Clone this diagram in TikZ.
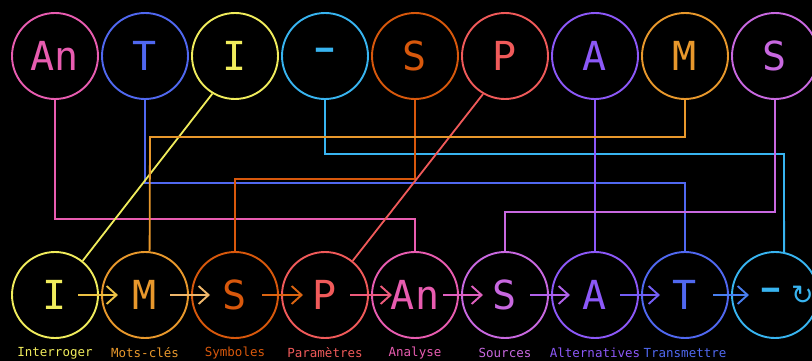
\documentclass[tikz,border=0pt]{standalone}
\usepackage{fontspec}
\setmonofont{DejaVu Sans Mono}
\newfontfamily\symf{DejaVu Sans}
\usetikzlibrary{arrows.meta}
\definecolor{cpink}{HTML}{E85CB0}
\definecolor{cblue}{HTML}{5068F0}
\definecolor{cyel}{HTML}{F0EC5C}
\definecolor{csky}{HTML}{38B4F0}
\definecolor{cred}{HTML}{D8580C}
\definecolor{ccoral}{HTML}{F05A5A}
\definecolor{cpurp}{HTML}{8C58F8}
\definecolor{corange}{HTML}{E8982C}
\definecolor{cviol}{HTML}{C868E0}
\newcommand{\wdash}{\scalebox{1.7}[1.3]{-}}
\begin{document}
\begin{tikzpicture}[x=1pt,y=-1pt,
  ring/.style={circle, draw=#1, line width=1.9pt, minimum size=86pt, inner sep=0pt, text=#1, font=\ttfamily\fontsize{40}{40}\selectfont},
  wire/.style={draw=#1, line width=1.8pt},
  flow/.style={draw=#1, line width=1.9pt, -{Straight Barb[length=10pt,width=18pt]}},
  tag/.style={text=#1, font=\ttfamily\fontsize{12.5}{12.5}\selectfont, inner sep=0pt}]
\fill[black] (0,0) rectangle (812,361);
\useasboundingbox (0,0) rectangle (812,361);
% top row
\node[ring=cpink]   (t1) at (55,56)  {An};
\node[ring=cblue]   (t2) at (145,56) {T};
\node[ring=cyel]    (t3) at (235,56) {I};
\node[ring=csky]    (t4) at (325,56) {\wdash};
\node[ring=cred]    (t5) at (415,56) {S};
\node[ring=ccoral]  (t6) at (505,56) {P};
\node[ring=cpurp]   (t7) at (595,56) {A};
\node[ring=corange] (t8) at (685,56) {M};
\node[ring=cviol]   (t9) at (775,56) {S};
% bottom row
\node[ring=cyel]    (b1) at (55,295)  {I};
\node[ring=corange] (b2) at (145,295) {M};
\node[ring=cred]    (b3) at (235,295) {S};
\node[ring=ccoral]  (b4) at (325,295) {P};
\node[ring=cpink]   (b5) at (415,295) {An};
\node[ring=cviol]   (b6) at (505,295) {S};
\node[ring=cpurp]   (b7) at (595,295) {A};
\node[ring=cblue]   (b8) at (685,295) {T};
\node[ring=csky]    (b9) at (775,295) {};
\node[text=csky, font=\ttfamily\fontsize{40}{40}\selectfont, inner sep=0pt] (b9t) at (782,295) {\wdash{\symf\fontsize{27}{27}\selectfont ↻}};
% labels
\node[tag=cyel]    (l1) at (55,353)  {Interroger};
\node[tag=corange] (l2) at (145,353) {Mots-clés};
\node[tag=cred]    (l3) at (235,353) {Symboles};
\node[tag=ccoral]  (l4) at (325,353) {Paramètres};
\node[tag=cpink]   (l5) at (415,353) {Analyse};
\node[tag=cviol]   (l6) at (505,353) {Sources};
\node[tag=cpurp]   (l7) at (595,353) {Alternatives};
\node[tag=cblue]   (l8) at (685,353) {Transmettre};
% connectors top -> bottom
\draw[wire=cpink]   (t1.south) |- (415,219) -- (b5.north);
\draw[wire=cblue]   (t2.south) |- (685,183) -- (b8.north);
\draw[wire=cyel]    (t3.239) -- (b1.51);
\draw[wire=csky]    (t4.south) |- (784,154) -- (b9.78);
\draw[wire=cred]    (t5.south) |- (235,179) -- (b3.north);
\draw[wire=ccoral]  (t6.240) -- (b4.51);
\draw[wire=cpurp]   (t7.south) -- (b7.north);
\draw[wire=corange] (t8.south) |- (150,137) -- (b2.84);
\draw[wire=cviol]   (t9.south) |- (505,212) -- (b6.north);
% flow arrows
\draw[flow=cyel!50!corange]   ([xshift=23pt]b1.center) -- ([xshift=-27pt]b2.center);
\draw[flow=corange!70!white]  ([xshift=25pt]b2.center) -- ([xshift=-25pt]b3.center);
\draw[flow=cred!80!corange]   ([xshift=27pt]b3.center) -- ([xshift=-22pt]b4.center);
\draw[flow=ccoral!60!cpink]   ([xshift=25pt]b4.center) -- ([xshift=-23pt]b5.center);
\draw[flow=cpink!70!cviol]    ([xshift=28pt]b5.center) -- ([xshift=-22pt]b6.center);
\draw[flow=cviol!60!cpurp]    ([xshift=25pt]b6.center) -- ([xshift=-25pt]b7.center);
\draw[flow=cpurp!60!cblue]    ([xshift=25pt]b7.center) -- ([xshift=-25pt]b8.center);
\draw[flow=cblue!70!csky]     ([xshift=28pt]b8.center) -- ([xshift=-26pt]b9.center);
\end{tikzpicture}
\end{document}
